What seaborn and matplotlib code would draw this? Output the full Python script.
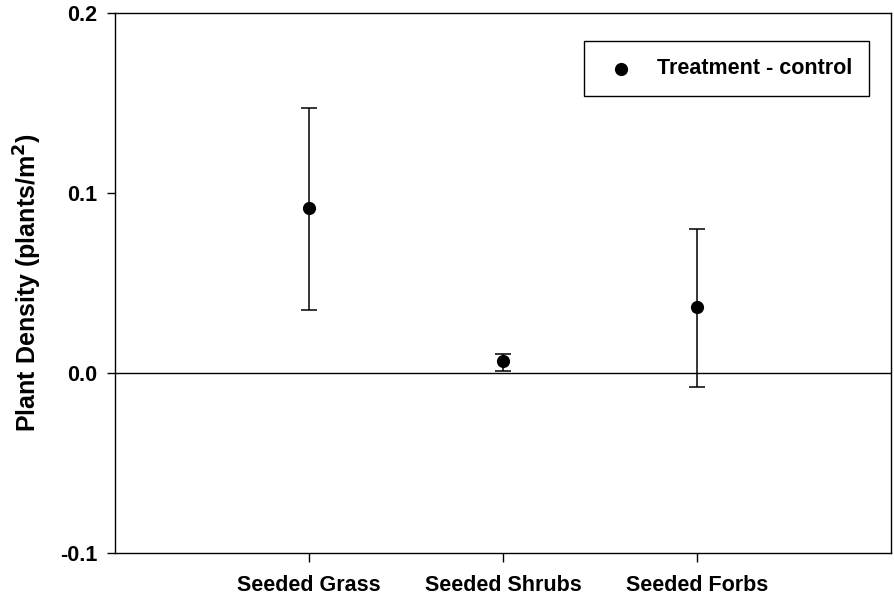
import matplotlib
matplotlib.use("Agg")
import matplotlib.pyplot as plt
import seaborn as sns
import pandas as pd

categories = ["Seeded Grass", "Seeded Shrubs", "Seeded Forbs"]
means = [0.0915, 0.0065, 0.0365]
upper = [0.1475, 0.0105, 0.0800]
lower = [0.0350, 0.0012, -0.0078]
yticks = [-0.1, 0.0, 0.1, 0.2]
ytick_labels = ["-0.1", "0.0", "0.1", "0.2"]

sns.set_style("white")
plt.rcParams['font.family'] = ['Liberation Sans', 'DejaVu Sans']
plt.rcParams['text.color'] = 'black'
plt.rcParams['axes.labelcolor'] = 'black'
plt.rcParams['xtick.color'] = 'black'
plt.rcParams['ytick.color'] = 'black'
plt.rcParams['mathtext.default'] = 'bf'

fig = plt.figure(figsize=(8.94, 5.98), dpi=100)
ax = fig.add_axes([115/894, (598-553)/598, (891-115)/894, (553-13)/598])

xpos = [1, 2, 3]
df = pd.DataFrame({"x": xpos, "mean": means, "cat": categories,
                   "lo": lower, "hi": upper})

yerr = [[m - l for m, l in zip(means, lower)], [h - m for m, h in zip(means, upper)]]
ax.errorbar(df["x"], df["mean"], yerr=yerr, fmt="none", ecolor="black",
            elinewidth=1.1, capsize=6, capthick=1.1, zorder=2)
sns.scatterplot(data=df, x="x", y="mean", color="black", s=90, edgecolor="black",
                linewidth=0, ax=ax, zorder=3, label="Treatment - control")

ax.axhline(0, color="black", lw=1.0, zorder=1)

ax.set_xlim(0, 4)
ax.set_ylim(-0.1, 0.2)
ax.set_xticks(xpos)
ax.set_xticklabels(categories, fontsize=15.5, fontweight="bold")
ax.set_yticks(yticks)
ax.set_yticklabels(ytick_labels, fontsize=15.5, fontweight="bold")
ax.tick_params(axis="x", direction="out", length=6.5, width=1.0, bottom=True, pad=9)
ax.tick_params(axis="y", direction="out", length=6, width=1.0, left=True, pad=6.5)
ax.set_xlabel("")
ax.set_ylabel("Plant Density (plants/m$^2$)", fontsize=18, fontweight="bold")
ax.yaxis.set_label_coords((44 - 115) / 776, 0.50)
for s in ax.spines.values():
    s.set_color("black")
    s.set_linewidth(1.0)

leg = ax.legend(loc="upper right", bbox_to_anchor=((869 - 115) / 776, (553 - 41) / 540),
                borderaxespad=0, frameon=True, fancybox=False,
                edgecolor="black", framealpha=1, prop={"weight": "bold", "size": 15.5},
                handletextpad=0.74, borderpad=0.8, handlelength=1.85, markerscale=1.0)
leg.get_frame().set_linewidth(1.0)

fig.savefig("out.png", dpi=100)
